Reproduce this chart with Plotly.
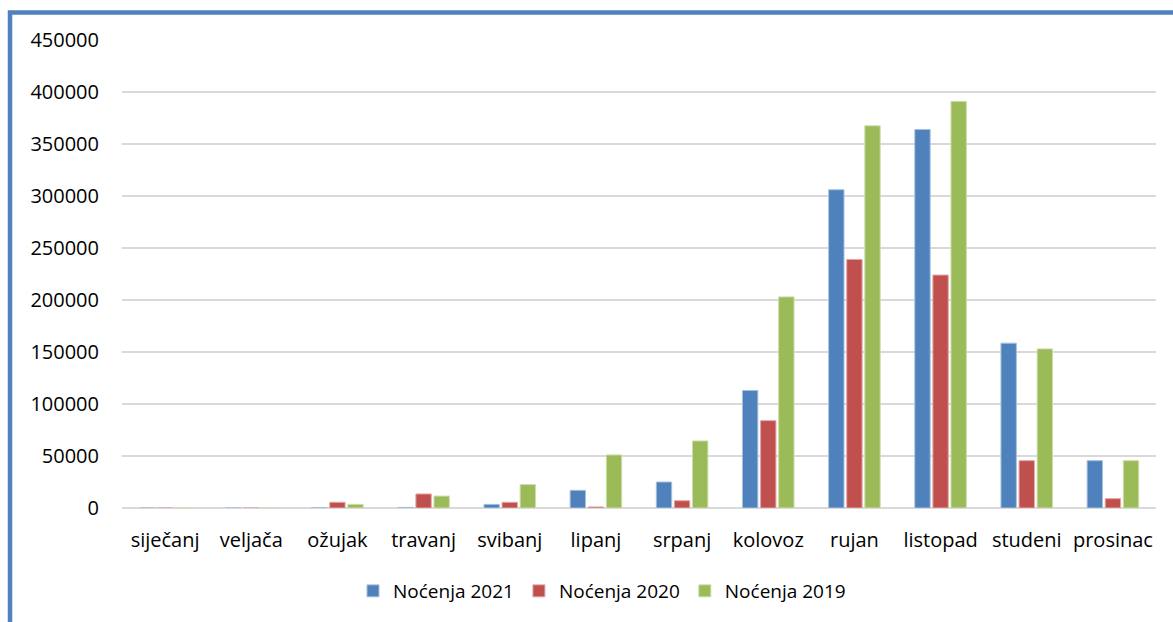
import plotly.graph_objects as go

months = ["siječanj", "veljača", "ožujak", "travanj", "svibanj", "lipanj",
          "srpanj", "kolovoz", "rujan", "listopad", "studeni", "prosinac"]
nocenja_2021 = [0, 0, 500, 600, 3500, 17000, 25000, 113000, 306000, 364000, 158500, 45500]
nocenja_2020 = [0, 0, 5500, 13500, 5500, 1000, 7000, 84000, 239000, 224000, 45500, 9000]
nocenja_2019 = [0, 0, 3500, 11500, 22500, 51000, 64500, 203000, 367500, 391000, 153000, 45500]

series = [
    ("Noćenja 2021", nocenja_2021, "#4F81BD", "#A7C0DE"),
    ("Noćenja 2020", nocenja_2020, "#C0504D", "#E0A8A6"),
    ("Noćenja 2019", nocenja_2019, "#9BBB59", "#CDDDAC"),
]

fig = go.Figure()
for name, vals, col, edge in series:
    fig.add_trace(go.Bar(x=months, y=vals, name=name, marker=dict(color=col, line=dict(color=edge, width=1))))

W, H = 1173, 622
L, R, T, B = 122, 17, 40, 114
pw, ph = W - L - R, H - T - B

def px(x):
    return (x - L) / pw

def py(y):
    return (H - B - y) / ph

fig.update_layout(
    width=W, height=H,
    margin=dict(l=L, r=R, t=T, b=B),
    paper_bgcolor="white", plot_bgcolor="white",
    barmode="group", bargap=0.37, bargroupgap=0.15,
    font=dict(family="Open Sans, sans-serif", size=20, color="#000000"),
    yaxis=dict(range=[0, 450000], dtick=50000, showgrid=True, gridcolor="#D9D9D9", gridwidth=1.5,
               zeroline=True, zerolinecolor="#D9D9D9", zerolinewidth=1.5,
               tickformat="d", ticks="", ticklabelstandoff=22, showline=False),
    xaxis=dict(showgrid=False, ticks="", showline=False, ticklabelstandoff=18),
    legend=dict(orientation="h", x=px(602), xanchor="center", y=py(591), yanchor="middle",
                font=dict(size=19), itemwidth=30, traceorder="normal"),
    shapes=[dict(type="path", xref="paper", yref="paper",
                 path=f"M {px(10)} {py(640)} L {px(10)} {py(12.5)} L {px(1190)} {py(12.5)}",
                 line=dict(color="#4F81BD", width=4.5))],
)

fig.write_html("out.html")
